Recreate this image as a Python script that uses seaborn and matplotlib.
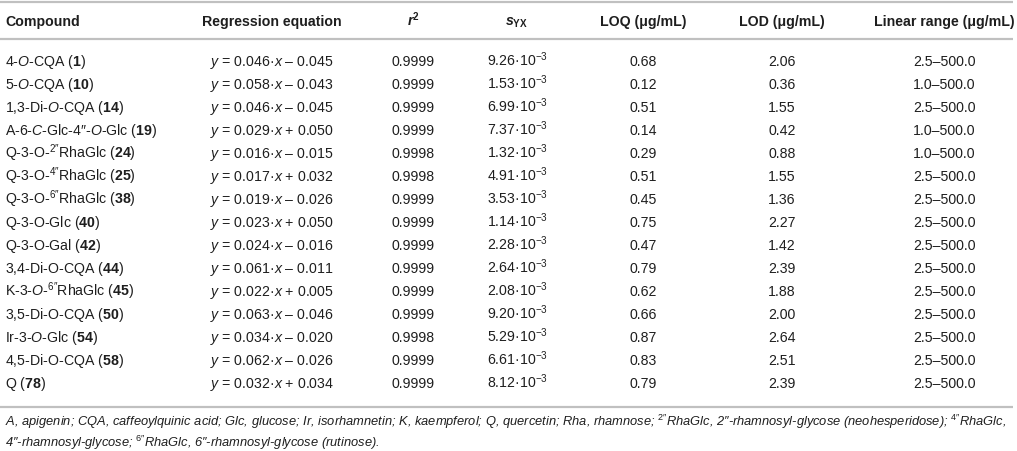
import matplotlib
matplotlib.use("Agg")
import matplotlib.pyplot as plt
import seaborn as sns

# ---------------- data ----------------
compounds = [
    r"4-$\mathit{O}$-CQA ($\mathbf{1}$)",
    r"5-$\mathit{O}$-CQA ($\mathbf{10}$)",
    r"1,3-Di-$\mathit{O}$-CQA ($\mathbf{14}$)",
    r"A-6-$\mathit{C}$-Glc-4″-$\mathit{O}$-Glc ($\mathbf{19}$)",
    r"Q-3-O-$^{2″}$RhaGlc ($\mathbf{24}$)",
    r"Q-3-O-$^{4″}$RhaGlc ($\mathbf{25}$)",
    r"Q-3-O-$^{6″}$RhaGlc ($\mathbf{38}$)",
    r"Q-3-O-Glc ($\mathbf{40}$)",
    r"Q-3-O-Gal ($\mathbf{42}$)",
    r"3,4-Di-O-CQA ($\mathbf{44}$)",
    r"K-3-$\mathit{O}$-$^{6″}$RhaGlc ($\mathbf{45}$)",
    r"3,5-Di-O-CQA ($\mathbf{50}$)",
    r"Ir-3-$\mathit{O}$-Glc ($\mathbf{54}$)",
    r"4,5-Di-O-CQA ($\mathbf{58}$)",
    r"Q ($\mathbf{78}$)",
]
slopes = [0.046, 0.058, 0.046, 0.029, 0.016, 0.017, 0.019, 0.023, 0.024,
          0.061, 0.022, 0.063, 0.034, 0.062, 0.032]
intercepts = [-0.045, -0.043, -0.045, 0.050, -0.015, 0.032, -0.026, 0.050,
              -0.016, -0.011, 0.005, -0.046, -0.020, -0.026, 0.034]
r2 = [0.9999, 0.9999, 0.9999, 0.9999, 0.9998, 0.9998, 0.9999, 0.9999,
      0.9999, 0.9999, 0.9999, 0.9999, 0.9998, 0.9999, 0.9999]
syx_mant = [9.26, 1.53, 6.99, 7.37, 1.32, 4.91, 3.53, 1.14, 2.28, 2.64,
            2.08, 9.20, 5.29, 6.61, 8.12]
syx_exp = -3
loq = [0.68, 0.12, 0.51, 0.14, 0.29, 0.51, 0.45, 0.75, 0.47, 0.79, 0.62,
       0.66, 0.87, 0.83, 0.79]
lod = [2.06, 0.36, 1.55, 0.42, 0.88, 1.55, 1.36, 2.27, 1.42, 2.39, 1.88,
       2.00, 2.64, 2.51, 2.39]
range_low = [2.5, 1.0, 2.5, 1.0, 1.0, 2.5, 2.5, 2.5, 2.5, 2.5, 2.5, 2.5,
             2.5, 2.5, 2.5]
range_high = [500.0] * 15
headers = ["Compound", "Regression equation", r"$\mathbfit{r}^{\mathbf{2}}$",
           r"$\mathbfit{s}_{\mathbf{YX}}$",
           "LOQ (μg/mL)", "LOD (μg/mL)", "Linear range (μg/mL)"]
footnote_lines = [
    "A, apigenin; CQA, caffeoylquinic acid; Glc, glucose; Ir, isorhamnetin; "
    "K, kaempferol; Q, quercetin; Rha, rhamnose; $^{2″}$RhaGlc, "
    "2″-rhamnosyl-glycose (neohesperidose); $^{4″}$RhaGlc,",
    "4″-rhamnosyl-glycose; $^{6″}$RhaGlc, 6″-rhamnosyl-glycose (rutinose).",
]

# ---------------- style ----------------
sns.set_theme(style="white")
plt.rcParams["font.family"] = ["Liberation Sans", "DejaVu Sans"]
plt.rcParams["mathtext.fontset"] = "custom"
plt.rcParams["mathtext.rm"] = "Liberation Sans"
plt.rcParams["mathtext.it"] = "Liberation Sans:italic"
plt.rcParams["mathtext.bf"] = "Liberation Sans:bold"
plt.rcParams["mathtext.bfit"] = "Liberation Sans:italic:bold"
plt.rcParams["mathtext.sf"] = "Liberation Sans"

TXT = "#1e1e1e"
RULE = "#c0c0c0"
FS = 10.2

W, H = 1017, 452
fig = plt.figure(figsize=(W / 100, H / 100), dpi=100)
ax = fig.add_axes([0, 0, 1, 1])
ax.set_xlim(0, W)
ax.set_ylim(H, 0)
ax.axis("off")

col_x = [5, 272, 413, 517, 643, 782, 944]
col_ha = ["left", "center", "center", "center", "center", "center", "center"]
header_y = 21
row0, row_step = 61, 23
base_off = 5

for x, ha, h in zip(col_x, col_ha, headers):
    ax.text(x, header_y + base_off, h, ha=ha, va="baseline", fontsize=FS,
            fontweight="bold", color=TXT)

def fmt_eq(s, b):
    sign = "+" if b >= 0 else "–"
    return f"$y$ = {s:.3f}·$x$ {sign} {abs(b):.3f}"

for i in range(len(compounds)):
    y = row0 + row_step * i + base_off
    cells = [
        compounds[i],
        fmt_eq(slopes[i], intercepts[i]),
        f"{r2[i]:.4f}",
        f"{syx_mant[i]:.2f}·10$^{{{syx_exp}}}$",
        f"{loq[i]:.2f}",
        f"{lod[i]:.2f}",
        f"{range_low[i]:.1f}–{range_high[i]:.1f}",
    ]
    for x, ha, c in zip(col_x, col_ha, cells):
        ax.text(x, y, c, ha=ha, va="baseline", fontsize=FS, color=TXT)

for yy in (3, 40, 408):
    ax.plot([0, 1013], [yy, yy], color=RULE, lw=1.6, solid_capstyle="butt")

for k, line in enumerate(footnote_lines):
    ax.text(5, 422 + 21 * k + 4, line, ha="left", va="baseline", fontsize=9.3,
            fontstyle="italic", color=TXT)

fig.savefig("out.png", dpi=100)
